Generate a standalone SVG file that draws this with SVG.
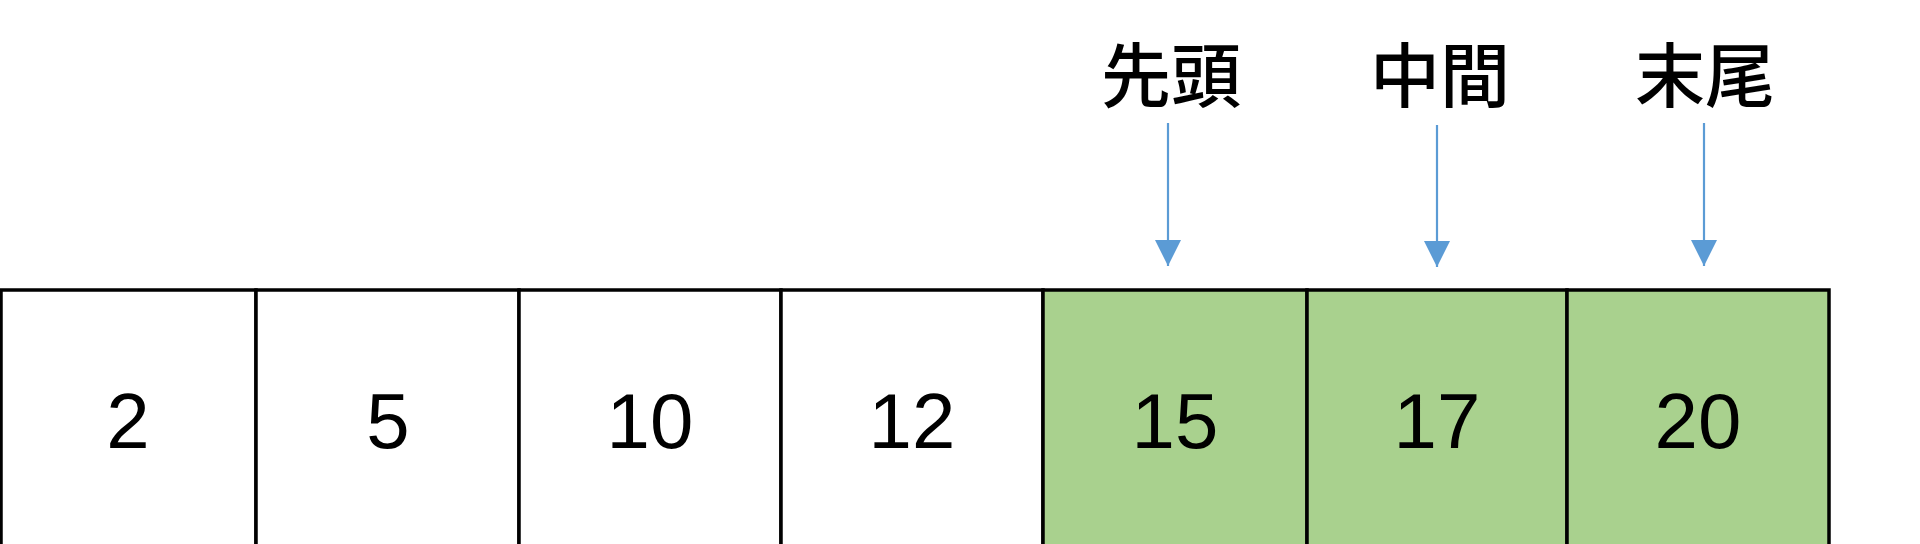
<svg xmlns="http://www.w3.org/2000/svg" width="1920" height="544" viewBox="0 0 1920 544">
<style>
.cell{stroke:#000;stroke-width:3.5}
.w{fill:#ffffff}
.g{fill:#a9d18e}
.num{font-family:"Liberation Sans","Noto Sans",sans-serif;font-size:78px;fill:#000;text-anchor:middle}
.lbl{font-family:"Noto Sans CJK JP","Noto Sans CJK TC",sans-serif;font-size:70px;font-weight:500;fill:#000;text-anchor:middle}
.arr{stroke:#5b9bd5;stroke-width:2.2;fill:none;marker-end:url(#ah)}
</style>
<defs>
<marker id="ah" markerUnits="userSpaceOnUse" markerWidth="26" markerHeight="28" refX="26" refY="13" orient="auto">
<path d="M0,0 L26,13 L0,26 Z" fill="#5b9bd5"/>
</marker>
</defs>
<rect width="1920" height="544" fill="#ffffff"/>
<g id="cell-0"><rect class="cell w" x="1" y="290" width="255" height="260"/><text class="num" x="128" y="448">2</text></g>
<g id="cell-1"><rect class="cell w" x="256" y="290" width="263" height="260"/><text class="num" x="388" y="448">5</text></g>
<g id="cell-2"><rect class="cell w" x="519" y="290" width="262" height="260"/><text class="num" x="650" y="448">10</text></g>
<g id="cell-3"><rect class="cell w" x="781" y="290" width="262" height="260"/><text class="num" x="912" y="448">12</text></g>
<g id="cell-4"><rect class="cell g" x="1043" y="290" width="264" height="260"/><text class="num" x="1175" y="448">15</text></g>
<g id="cell-5"><rect class="cell g" x="1307" y="290" width="260" height="260"/><text class="num" x="1437" y="448">17</text></g>
<g id="cell-6"><rect class="cell g" x="1567" y="290" width="262" height="260"/><text class="num" x="1698" y="448">20</text></g>
<g id="label-head"><text class="lbl" x="1171" y="102">先頭</text></g>
<g id="label-mid"><text class="lbl" x="1440" y="102">中間</text></g>
<g id="label-tail"><text class="lbl" x="1705" y="102">末尾</text></g>
<g id="connectors">
<line class="arr" x1="1168" y1="123" x2="1168" y2="266"/>
<line class="arr" x1="1437" y1="125" x2="1437" y2="267"/>
<line class="arr" x1="1704" y1="123" x2="1704" y2="266"/>
</g>
</svg>
